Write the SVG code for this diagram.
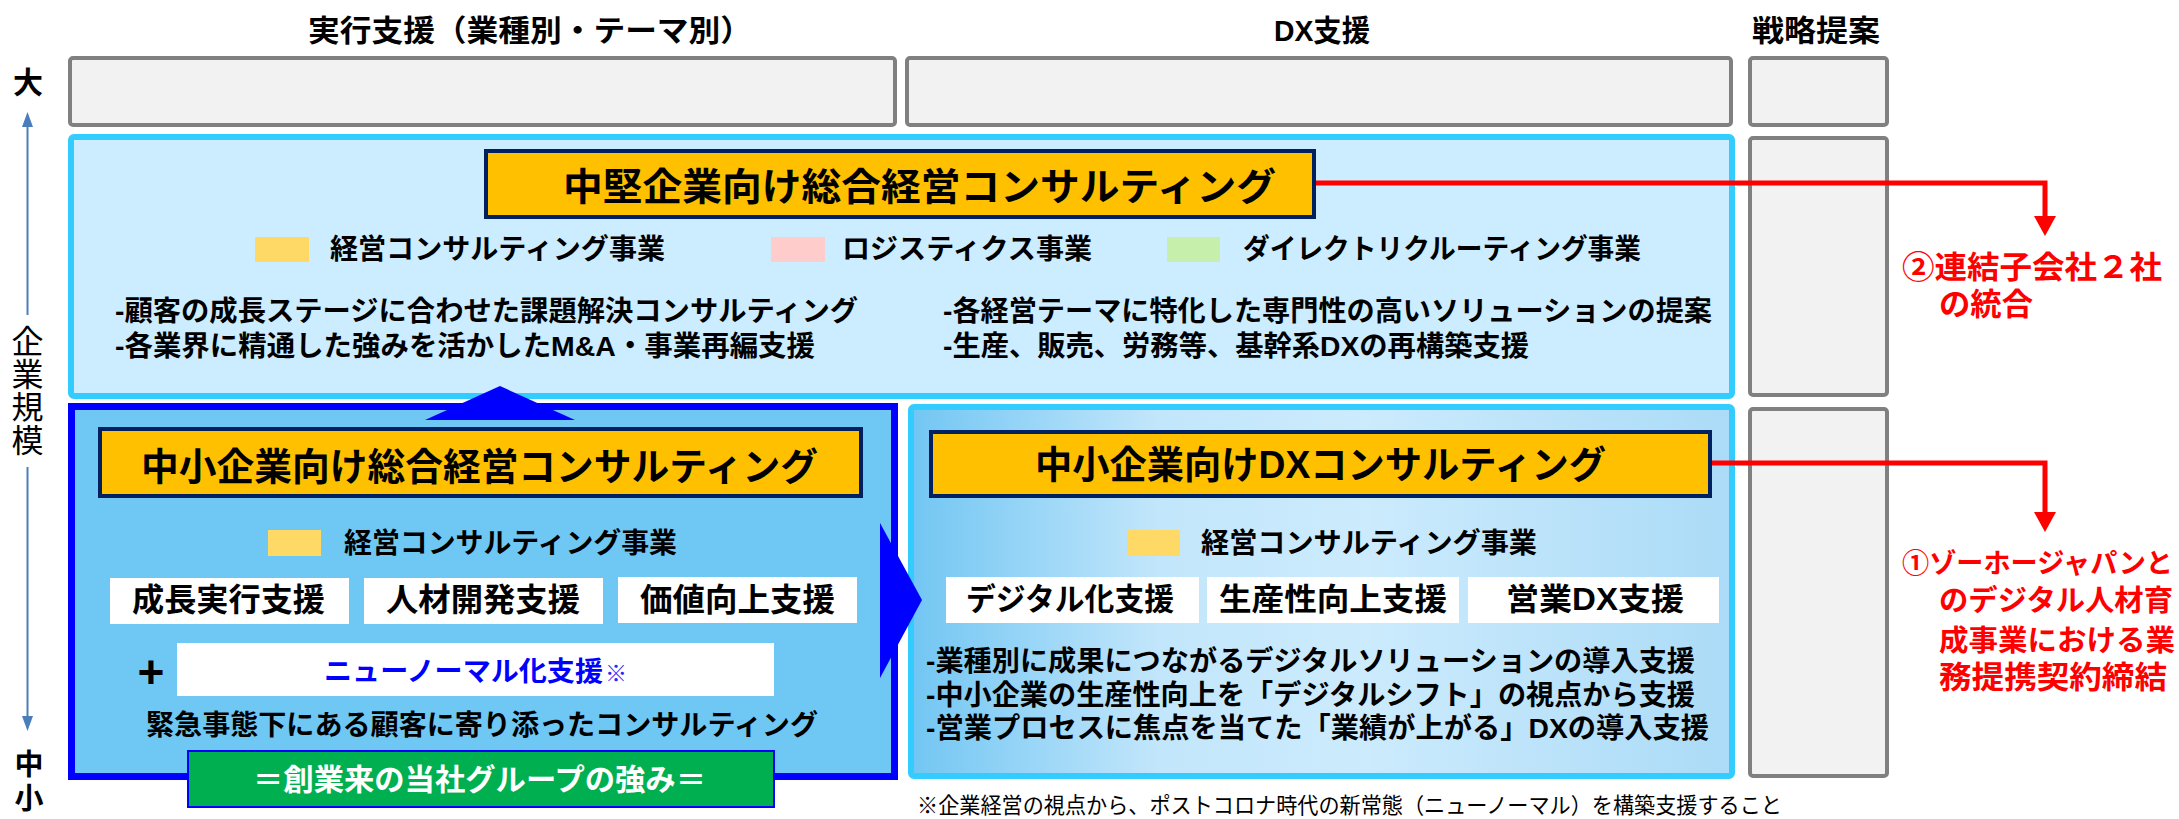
<svg xmlns="http://www.w3.org/2000/svg" width="2179" height="819" viewBox="0 0 2179 819">
<defs>
<style>
.b{font-family:"Liberation Sans","Noto Sans CJK JP",sans-serif;font-weight:700;fill:#000}
.r{font-family:"Liberation Sans","Noto Sans CJK JP",sans-serif;font-weight:400;fill:#000}
.red{fill:#FF0000}
.gray{fill:#F2F2F2;stroke:#808080;stroke-width:4}
.title{fill:#FFC000;stroke:#002060;stroke-width:4}
.wbox{fill:#FFFFFF}
.axis{stroke:#4A7EBB;stroke-width:2;fill:none}
.conn{stroke:#FF0000;stroke-width:5;fill:none}
</style>
<linearGradient id="dxg" x1="0" y1="0" x2="1" y2="0">
<stop offset="0" stop-color="#72C6F3"/>
<stop offset="0.3" stop-color="#C2E6FB"/>
<stop offset="0.55" stop-color="#CCEBFD"/>
<stop offset="1" stop-color="#ABDBF7"/>
</linearGradient>
</defs>
<rect width="2179" height="819" fill="#FFFFFF"/>

<g id="headers">
<text class="b" x="308" y="41" font-size="30" textLength="444" lengthAdjust="spacingAndGlyphs">実行支援（業種別・テーマ別）</text>
<text class="b" x="1274" y="41" font-size="30" textLength="96" lengthAdjust="spacingAndGlyphs">DX支援</text>
<text class="b" x="1752" y="41" font-size="30" textLength="128" lengthAdjust="spacingAndGlyphs">戦略提案</text>
</g>

<g id="axis">
<text class="b" x="28" y="93" font-size="30" text-anchor="middle">大</text>
<line class="axis" x1="27.5" y1="125" x2="27.5" y2="315"/>
<polygon points="27.5,112 22,127 33,127" fill="#4A7EBB"/>
<text x="27.5" y="325" font-family="'Noto Sans CJK JP',sans-serif" font-weight="400" font-size="32" letter-spacing="1" style="writing-mode:vertical-rl">企業規模</text>
<line class="axis" x1="27.5" y1="467" x2="27.5" y2="719"/>
<polygon points="27.5,731 22,716 33,716" fill="#4A7EBB"/>
<text class="b" x="29" y="775" font-size="29" text-anchor="middle">中</text>
<text class="b" x="29" y="809" font-size="29" text-anchor="middle">小</text>
</g>

<g id="top-row">
<rect class="gray" x="70" y="58" width="825" height="67" rx="3"/>
<rect class="gray" x="907" y="58" width="824" height="67" rx="3"/>
<rect class="gray" x="1750" y="58" width="137" height="67" rx="3"/>
</g>

<g id="strategy-column">
<rect class="gray" x="1750" y="138" width="137" height="257" rx="3"/>
<rect class="gray" x="1750" y="409" width="137" height="367" rx="3"/>
</g>

<g id="midsize">
<rect x="71" y="137" width="1661" height="259" rx="3" fill="#CCECFF" stroke="#33CCFF" stroke-width="6"/>
<rect class="title" x="486" y="151" width="828" height="66"/>
<text class="b" x="563" y="200" font-size="38" textLength="713" lengthAdjust="spacingAndGlyphs">中堅企業向け総合経営コンサルティング</text>
<rect x="255" y="237" width="54" height="25" fill="#FFD966"/>
<text class="b" x="330" y="259" font-size="28" textLength="335" lengthAdjust="spacingAndGlyphs">経営コンサルティング事業</text>
<rect x="771" y="237" width="54" height="25" fill="#FFCCCC"/>
<text class="b" x="842" y="259" font-size="28" textLength="250" lengthAdjust="spacingAndGlyphs">ロジスティクス事業</text>
<rect x="1167" y="237" width="53" height="25" fill="#C5EFAB"/>
<text class="b" x="1243" y="259" font-size="28" textLength="398" lengthAdjust="spacingAndGlyphs">ダイレクトリクルーティング事業</text>
<text class="b" x="115" y="321" font-size="28" textLength="743" lengthAdjust="spacingAndGlyphs">-顧客の成長ステージに合わせた課題解決コンサルティング</text>
<text class="b" x="115" y="356" font-size="28" textLength="700" lengthAdjust="spacingAndGlyphs">-各業界に精通した強みを活かしたM&amp;A・事業再編支援</text>
<text class="b" x="943" y="321" font-size="28" textLength="769" lengthAdjust="spacingAndGlyphs">-各経営テーマに特化した専門性の高いソリューションの提案</text>
<text class="b" x="943" y="356" font-size="28" textLength="586" lengthAdjust="spacingAndGlyphs">-生産、販売、労務等、基幹系DXの再構築支援</text>
</g>

<g id="sme-general">
<rect x="71.5" y="406.5" width="823" height="370" fill="#6FC7F4" stroke="#0000FF" stroke-width="7"/>
<rect class="title" x="100" y="429" width="761" height="67"/>
<text class="b" x="141" y="480" font-size="38" textLength="677" lengthAdjust="spacingAndGlyphs">中小企業向け総合経営コンサルティング</text>
<rect x="268" y="530" width="53" height="26" fill="#FFD966"/>
<text class="b" x="344" y="553" font-size="28" textLength="333" lengthAdjust="spacingAndGlyphs">経営コンサルティング事業</text>
<rect class="wbox" x="110" y="578" width="239" height="46"/>
<rect class="wbox" x="364" y="578" width="239" height="46"/>
<rect class="wbox" x="618" y="577" width="239" height="46"/>
<text class="b" x="132" y="611" font-size="32" textLength="193" lengthAdjust="spacingAndGlyphs">成長実行支援</text>
<text class="b" x="386" y="611" font-size="32" textLength="194" lengthAdjust="spacingAndGlyphs">人材開発支援</text>
<text class="b" x="640" y="611" font-size="32" textLength="195" lengthAdjust="spacingAndGlyphs">価値向上支援</text>
<text x="151" y="688" font-family="'Liberation Sans',sans-serif" font-weight="700" font-size="46" text-anchor="middle">+</text>
<rect class="wbox" x="177" y="643" width="597" height="53"/>
<text class="b" x="324" y="681" font-size="27.5" textLength="279" lengthAdjust="spacingAndGlyphs" style="fill:#0000FF">ニューノーマル化支援</text>
<text x="605" y="681" font-family="'Noto Sans CJK JP',sans-serif" font-weight="400" font-size="22" style="fill:#2A2AF5">※</text>
<text class="b" x="146" y="735" font-size="28" textLength="672" lengthAdjust="spacingAndGlyphs">緊急事態下にある顧客に寄り添ったコンサルティング</text>
<rect x="188" y="751" width="586" height="56" fill="#00B050" stroke="#0000FF" stroke-width="2"/>
<text class="b" x="253" y="790" font-size="30" textLength="453" lengthAdjust="spacingAndGlyphs" style="fill:#FFFFFF">＝創業来の当社グループの強み＝</text>
</g>

<g id="sme-dx">
<rect x="911" y="407" width="821" height="369" rx="3" fill="url(#dxg)" stroke="#33CCFF" stroke-width="6"/>
<rect class="title" x="931" y="432" width="779" height="64"/>
<text class="b" x="1035" y="478" font-size="38" textLength="571" lengthAdjust="spacingAndGlyphs">中小企業向けDXコンサルティング</text>
<rect x="1127" y="530" width="53" height="26" fill="#FFD966"/>
<text class="b" x="1201" y="553" font-size="28" textLength="336" lengthAdjust="spacingAndGlyphs">経営コンサルティング事業</text>
<rect class="wbox" x="946" y="577" width="253" height="46"/>
<rect class="wbox" x="1207" y="577" width="252" height="46"/>
<rect class="wbox" x="1468" y="577" width="251" height="46"/>
<text class="b" x="966" y="610" font-size="31" textLength="208" lengthAdjust="spacingAndGlyphs">デジタル化支援</text>
<text class="b" x="1219" y="610" font-size="31" textLength="228" lengthAdjust="spacingAndGlyphs">生産性向上支援</text>
<text class="b" x="1506" y="610" font-size="31" textLength="178" lengthAdjust="spacingAndGlyphs">営業DX支援</text>
<text class="b" x="926" y="671" font-size="28" textLength="769" lengthAdjust="spacingAndGlyphs">-業種別に成果につながるデジタルソリューションの導入支援</text>
<text class="b" x="926" y="705" font-size="28" textLength="769" lengthAdjust="spacingAndGlyphs">-中小企業の生産性向上を「デジタルシフト」の視点から支援</text>
<text class="b" x="926" y="738" font-size="28" textLength="783" lengthAdjust="spacingAndGlyphs">-営業プロセスに焦点を当てた「業績が上がる」DXの導入支援</text>
</g>

<g id="footnote">
<text class="r" x="917" y="813" font-size="22" textLength="865" lengthAdjust="spacingAndGlyphs">※企業経営の視点から、ポストコロナ時代の新常態（ニューノーマル）を構築支援すること</text>
</g>

<g id="connectors">
<polygon points="425,420 500,386 575,420" fill="#0000FF"/>
<polygon points="880,523 922,600 880,678" fill="#0000FF"/>
<path class="conn" d="M1316,183 H2045 V219"/>
<polygon points="2034,216 2056,216 2045,236" fill="#FF0000"/>
<path class="conn" d="M1712,463 H2045 V514"/>
<polygon points="2034,512 2056,512 2045,532" fill="#FF0000"/>
</g>

<g id="note-integration">
<text class="b red" x="1902" y="278" font-size="31" textLength="260" lengthAdjust="spacingAndGlyphs">②連結子会社２社</text>
<text class="b red" x="1939" y="315" font-size="31" textLength="94" lengthAdjust="spacingAndGlyphs">の統合</text>
</g>

<g id="note-partnership">
<text class="b red" x="1902" y="573" font-size="27.5" textLength="271" lengthAdjust="spacingAndGlyphs">①ゾーホージャパンと</text>
<text class="b red" x="1939" y="611" font-size="29" textLength="234" lengthAdjust="spacingAndGlyphs">のデジタル人材育</text>
<text class="b red" x="1939" y="651" font-size="29" textLength="236" lengthAdjust="spacingAndGlyphs">成事業における業</text>
<text class="b red" x="1939" y="688" font-size="31" textLength="228" lengthAdjust="spacingAndGlyphs">務提携契約締結</text>
</g>
</svg>
